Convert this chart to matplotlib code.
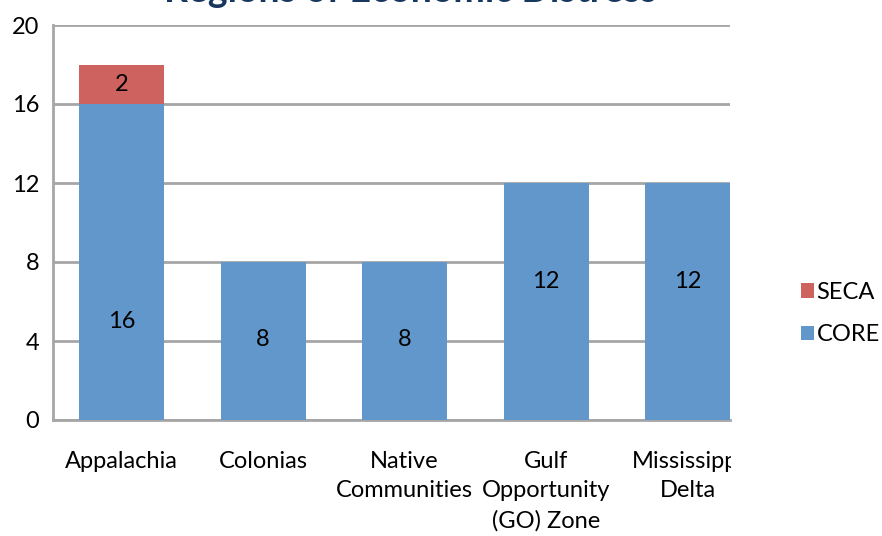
import numpy as np
import matplotlib.pyplot as plt
from matplotlib.patches import Rectangle

plt.rcParams['font.family'] = ['Lato', 'DejaVu Sans']

regions = ['Appalachia', 'Colonias', 'Native\nCommunities',
           'Gulf\nOpportunity\n(GO) Zone', 'Mississippi\nDelta']
core = [16, 8, 8, 12, 12]
seca = [2, 0, 0, 0, 0]
yticks = [0, 4, 8, 12, 16, 20]
# where Excel put the CORE labels (value units)
core_label_y = [5, 4.1, 4.1, 7, 7]

blue = '#6197CB'
red = '#CD625E'
grid_c = '#A6A6A6'
fs = 17

fig = plt.figure(figsize=(8.82, 5.36), dpi=100)
ax = fig.add_axes([53/882, 1-420/536, 677/882, 395/536])

x = np.arange(len(regions))
w = 0.6
ax.bar(x, core, w, color=blue, label='CORE', zorder=3)
ax.bar(x, seca, w, bottom=core, color=red, label='SECA', zorder=3)

for i in range(len(regions)):
    ax.text(x[i], core_label_y[i], str(core[i]), ha='center', va='center', fontsize=fs, zorder=4)
    if seca[i]:
        ax.text(x[i], core[i] + seca[i]/2, str(seca[i]), ha='center', va='center', fontsize=fs, zorder=4)

ax.set_xlim(-0.485, 4.3)
ax.set_ylim(0, 20)
ax.set_yticks(yticks)
ax.yaxis.grid(True, color=grid_c, lw=2, zorder=0)
ax.set_xticks(x)
ax.set_xticklabels(regions, fontsize=fs, linespacing=1.52, va='top')
ax.tick_params(axis='x', length=0, pad=22)
ax.tick_params(axis='y', length=0, pad=10, labelsize=fs)
for s in ['top', 'right']:
    ax.spines[s].set_visible(False)
for s in ['left', 'bottom']:
    ax.spines[s].set_color(grid_c)
    ax.spines[s].set_linewidth(2)

# right side of the chart is cut off in the source
clip = Rectangle((0, 0), 731/882, 1, transform=fig.transFigure, visible=False)
fig.add_artist(clip)
for lab in ax.get_xticklabels():
    lab.set_clip_path(clip)

h, l = ax.get_legend_handles_labels()
fig.legend(h[::-1], l[::-1], loc='center left', bbox_to_anchor=(0.895, 0.415),
           frameon=False, fontsize=fs, handlelength=0.55, handleheight=0.55,
           handletextpad=0.1, labelspacing=0.9, borderpad=0)

fig.text(0.465, 1 - 2/536, 'Regions of Economic Distress', ha='center', va='baseline',
         fontsize=27, fontweight='bold', color='#17375E')

fig.savefig('out.png', dpi=100)
